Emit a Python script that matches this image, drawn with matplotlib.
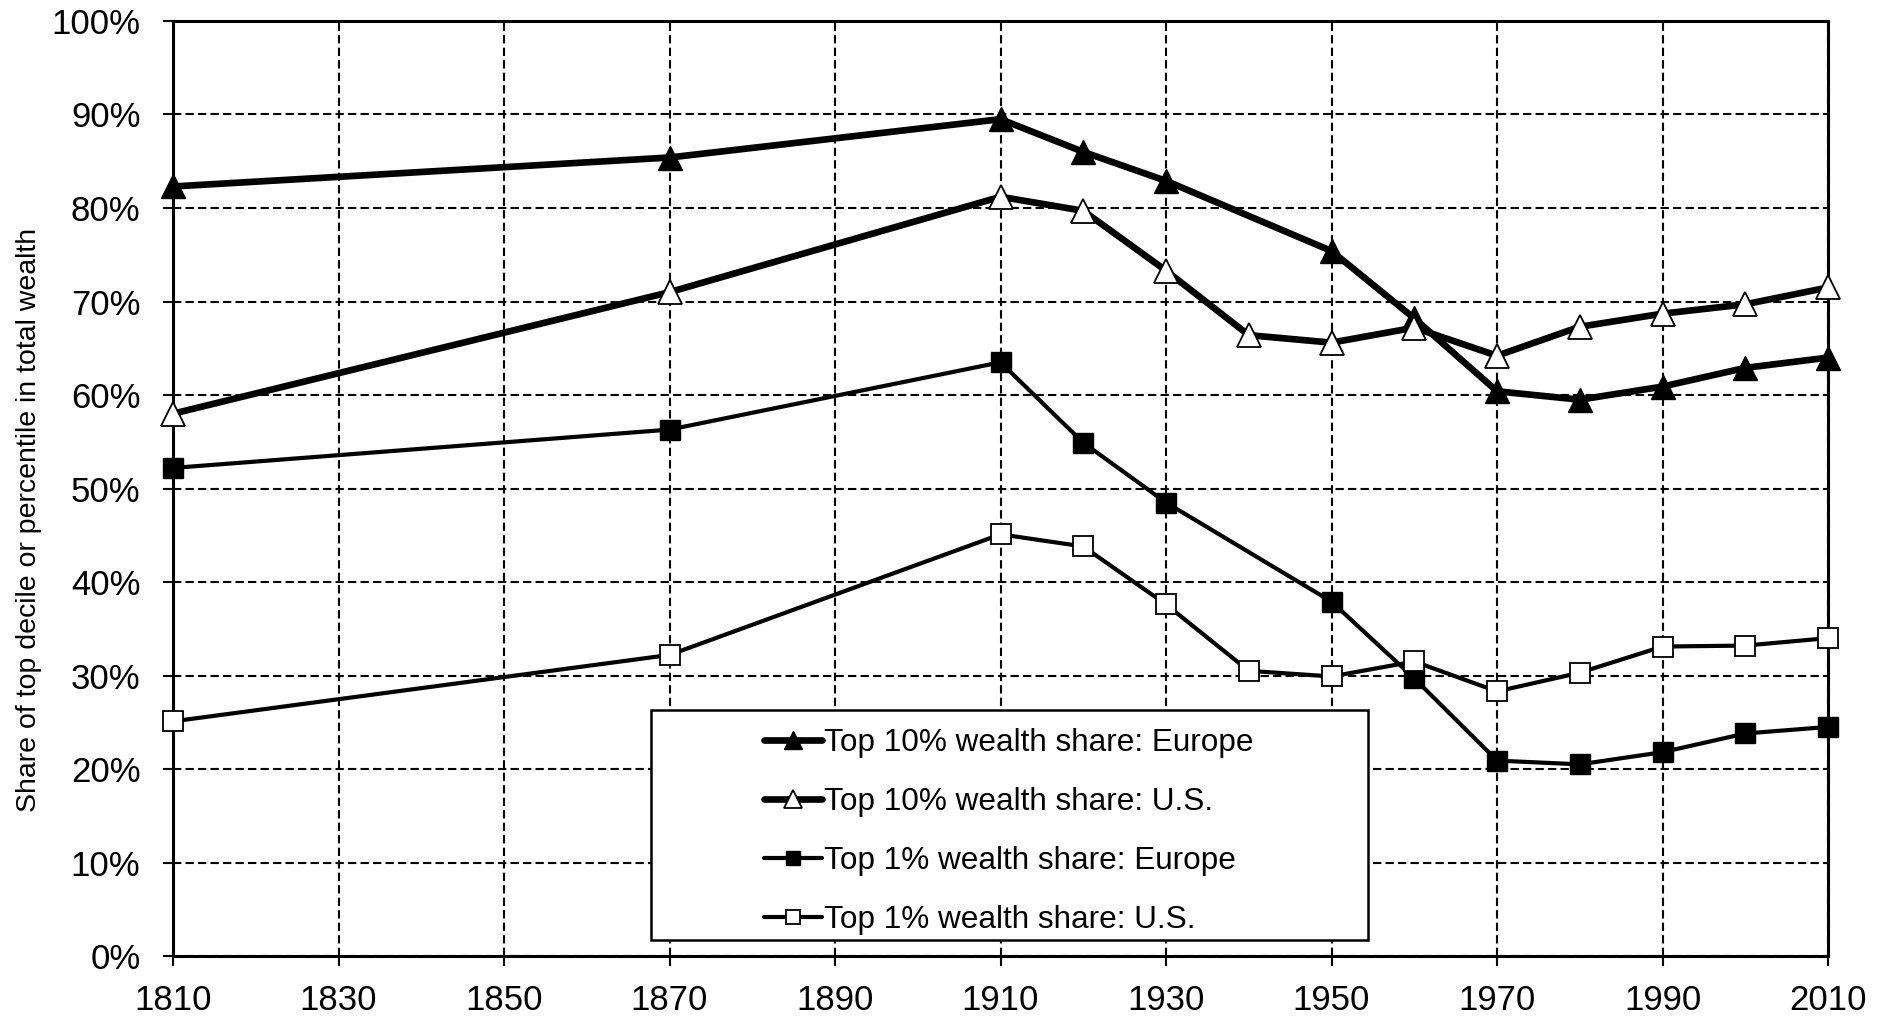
import matplotlib
matplotlib.use("Agg")
import matplotlib.pyplot as plt
from matplotlib.patches import Rectangle
from matplotlib.ticker import FuncFormatter

plt.rcParams['font.family'] = ['Liberation Sans', 'DejaVu Sans']
plt.rcParams['lines.scale_dashes'] = False

# Data
years_eu = [1810, 1870, 1910, 1920, 1930, 1950, 1960, 1970, 1980, 1990, 2000, 2010]
years_us = [1810, 1870, 1910, 1920, 1930, 1940, 1950, 1960, 1970, 1980, 1990, 2000, 2010]

top10_europe = [82.3, 85.4, 89.5, 86.0, 82.9, 75.4, 68.2, 60.4, 59.5, 60.9, 62.9, 64.0]
top10_us = [58.0, 71.0, 81.2, 79.7, 73.3, 66.4, 65.6, 67.2, 64.2, 67.3, 68.7, 69.7, 71.5]
top1_europe = [52.2, 56.3, 63.5, 54.9, 48.5, 37.9, 29.7, 20.9, 20.5, 21.8, 23.8, 24.5]
top1_us = [25.1, 32.2, 45.1, 43.8, 37.6, 30.5, 29.9, 31.5, 28.3, 30.3, 33.1, 33.2, 34.0]

labels = ["Top 10% wealth share: Europe", "Top 10% wealth share: U.S.",
          "Top 1% wealth share: Europe", "Top 1% wealth share: U.S."]
xticks = list(range(1810, 2011, 20))
yticks = list(range(0, 101, 10))

fig = plt.figure(figsize=(18.83, 10.19), dpi=100)
ax = fig.add_axes([0.0919, 0.0618, 0.8789, 0.9176])

grid_style = dict(color='black', lw=1.5, linestyle=(0, (6, 3)))
ax.set_axisbelow(True)
ax.grid(True, **grid_style)

thick = dict(color='black', lw=4.8, clip_on=False, zorder=3)
thin = dict(color='black', lw=3.0, clip_on=False, zorder=3)

h1, = ax.plot(years_eu, top10_europe, marker='^', ms=17, mfc='black', mec='black', mew=1, **thick)
h2, = ax.plot(years_us, top10_us, marker='^', ms=17, mfc='white', mec='black', mew=1.3, **thick)
h3, = ax.plot(years_eu, top1_europe, marker='s', ms=14, mfc='black', mec='black', mew=1, **thin)
h4, = ax.plot(years_us, top1_us, marker='s', ms=14, mfc='white', mec='black', mew=1.3, **thin)

ax.set_xlim(1810, 2010)
ax.set_ylim(0, 100)
ax.set_xticks(xticks)
ax.set_yticks(yticks)
ax.yaxis.set_major_formatter(FuncFormatter(lambda v, p: f"{v:.0f}%"))
ax.tick_params(axis='both', direction='out', length=7.5, width=1.5, labelsize=25, color='black')
ax.tick_params(axis='y', pad=16)
ax.tick_params(axis='x', pad=13)
for s in ax.spines.values():
    s.set_linewidth(2.2)
    s.set_color('black')

ax.set_ylabel("Share of top decile or percentile in total wealth", fontsize=20.5)
ax.yaxis.set_label_coords(-0.079, 0.466)

# legend box
ax.add_patch(Rectangle((0.289, 0.017), 0.433, 0.246, transform=ax.transAxes,
                       facecolor='white', edgecolor='black', lw=1.8, zorder=4))
leg = ax.legend([h1, h2, h3, h4], labels, loc='center left', bbox_to_anchor=(0.3476, 0.1336),
                frameon=False, fontsize=22.7, handlelength=1.85, handletextpad=0.05,
                labelspacing=0.92, borderpad=0, markerscale=0.75)
leg.set_zorder(5)
for ln in leg.get_lines():
    ln.set_solid_capstyle('round')

fig.savefig("out.png", dpi=100, facecolor='white')
